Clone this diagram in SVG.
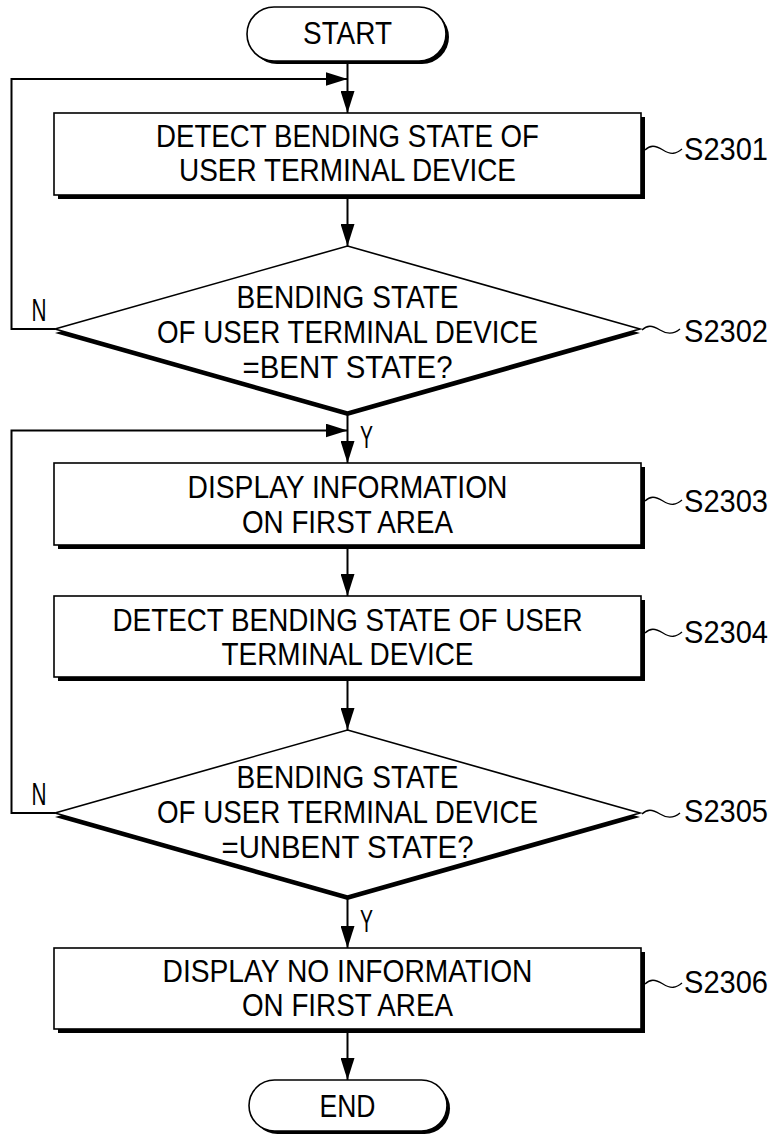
<svg xmlns="http://www.w3.org/2000/svg" width="780" height="1137" viewBox="0 0 780 1137">
<defs>
<style>
.t{font-family:"Liberation Sans",Arial,sans-serif;font-size:31px;fill:#000;text-anchor:middle}
.l{font-family:"Liberation Sans",Arial,sans-serif;font-size:31px;fill:#000}
.box{fill:#fff;stroke:#000;stroke-width:1.6}
.sh{fill:#000;stroke:none}
.c{fill:none;stroke:#000;stroke-width:2}
.tl{fill:none;stroke:#000;stroke-width:1.3}
</style>
<marker id="ah" viewBox="0 0 22 14" refX="22" refY="7" markerWidth="22" markerHeight="14" orient="auto" markerUnits="userSpaceOnUse">
<path d="M0,0 L22,7 L0,14 z" fill="#000"/>
</marker>
</defs>
<rect width="780" height="1137" fill="#fff"/>

<g id="connectors">
<line class="c" x1="347.5" y1="63" x2="347.5" y2="113" marker-end="url(#ah)"/>
<polyline class="c" points="55,329 11.5,329 11.5,79 347.5,79" marker-end="url(#ah)"/>
<line class="c" x1="347.5" y1="197" x2="347.5" y2="246" marker-end="url(#ah)"/>
<line class="c" x1="347.5" y1="414" x2="347.5" y2="463" marker-end="url(#ah)"/>
<polyline class="c" points="55,813 11.5,813 11.5,430.5 347.5,430.5" marker-end="url(#ah)"/>
<line class="c" x1="347.5" y1="548" x2="347.5" y2="596" marker-end="url(#ah)"/>
<line class="c" x1="347.5" y1="679" x2="347.5" y2="730" marker-end="url(#ah)"/>
<line class="c" x1="347.5" y1="898" x2="347.5" y2="948" marker-end="url(#ah)"/>
<line class="c" x1="347.5" y1="1032" x2="347.5" y2="1080" marker-end="url(#ah)"/>
<text class="l" x="31.5" y="320.5" textLength="15" lengthAdjust="spacingAndGlyphs">N</text>
<text class="l" x="360" y="448" textLength="13" lengthAdjust="spacingAndGlyphs">Y</text>
<text class="l" x="31.5" y="805" textLength="15" lengthAdjust="spacingAndGlyphs">N</text>
<text class="l" x="360" y="932" textLength="13" lengthAdjust="spacingAndGlyphs">Y</text>
</g>

<g id="start">
<rect class="sh" x="250" y="10" width="199" height="54" rx="27"/>
<rect class="box" x="247" y="7" width="199" height="54" rx="27"/>
<text class="t" x="347.5" y="44" textLength="89" lengthAdjust="spacingAndGlyphs">START</text>
</g>

<g id="s2301">
<rect class="sh" x="58" y="117" width="587" height="82"/>
<rect class="box" x="54" y="113" width="587" height="82"/>
<text class="t" x="347.5" y="146.5" textLength="383" lengthAdjust="spacingAndGlyphs">DETECT BENDING STATE OF</text>
<text class="t" x="347.5" y="181" textLength="337" lengthAdjust="spacingAndGlyphs">USER TERMINAL DEVICE</text>
<path class="tl" d="M645,150 c5,-5 10,-5 18,0 s13,4 19,-1"/>
<text class="l" x="684" y="160" textLength="84" lengthAdjust="spacingAndGlyphs">S2301</text>
</g>

<g id="s2302">
<polygon class="sh" points="347.5,250 640,333 347.5,416 55,333"/>
<polygon class="box" points="347.5,246 640,329 347.5,412 55,329"/>
<text class="t" x="347.5" y="308" textLength="222" lengthAdjust="spacingAndGlyphs">BENDING STATE</text>
<text class="t" x="347.5" y="343" textLength="381" lengthAdjust="spacingAndGlyphs">OF USER TERMINAL DEVICE</text>
<text class="t" x="347.5" y="378" textLength="210" lengthAdjust="spacingAndGlyphs">=BENT STATE?</text>
<path class="tl" d="M642,330 c5,-5 10,-5 18,0 s14,4 20,-1"/>
<text class="l" x="684" y="342" textLength="84" lengthAdjust="spacingAndGlyphs">S2302</text>
</g>

<g id="s2303">
<rect class="sh" x="58" y="467" width="587" height="82"/>
<rect class="box" x="54" y="463" width="587" height="82"/>
<text class="t" x="347.5" y="498" textLength="320" lengthAdjust="spacingAndGlyphs">DISPLAY INFORMATION</text>
<text class="t" x="347.5" y="532.5" textLength="211" lengthAdjust="spacingAndGlyphs">ON FIRST AREA</text>
<path class="tl" d="M645,501 c5,-5 10,-5 18,0 s13,4 19,-1"/>
<text class="l" x="684" y="512" textLength="84" lengthAdjust="spacingAndGlyphs">S2303</text>
</g>

<g id="s2304">
<rect class="sh" x="58" y="600" width="587" height="81"/>
<rect class="box" x="54" y="596" width="587" height="81"/>
<text class="t" x="347.5" y="631" textLength="470" lengthAdjust="spacingAndGlyphs">DETECT BENDING STATE OF USER</text>
<text class="t" x="347.5" y="665" textLength="252" lengthAdjust="spacingAndGlyphs">TERMINAL DEVICE</text>
<path class="tl" d="M645,633 c5,-5 10,-5 18,0 s13,4 19,-1"/>
<text class="l" x="684" y="643" textLength="84" lengthAdjust="spacingAndGlyphs">S2304</text>
</g>

<g id="s2305">
<polygon class="sh" points="347.5,734 640,817 347.5,900 55,817"/>
<polygon class="box" points="347.5,730 640,813 347.5,896 55,813"/>
<text class="t" x="347.5" y="788" textLength="222" lengthAdjust="spacingAndGlyphs">BENDING STATE</text>
<text class="t" x="347.5" y="823" textLength="381" lengthAdjust="spacingAndGlyphs">OF USER TERMINAL DEVICE</text>
<text class="t" x="347.5" y="858" textLength="252" lengthAdjust="spacingAndGlyphs">=UNBENT STATE?</text>
<path class="tl" d="M642,814 c5,-5 10,-5 18,0 s14,4 20,-1"/>
<text class="l" x="684" y="822" textLength="84" lengthAdjust="spacingAndGlyphs">S2305</text>
</g>

<g id="s2306">
<rect class="sh" x="58" y="952" width="587" height="81"/>
<rect class="box" x="54" y="948" width="587" height="81"/>
<text class="t" x="347.5" y="981.5" textLength="370" lengthAdjust="spacingAndGlyphs">DISPLAY NO INFORMATION</text>
<text class="t" x="347.5" y="1016" textLength="211" lengthAdjust="spacingAndGlyphs">ON FIRST AREA</text>
<path class="tl" d="M645,984 c5,-5 10,-5 18,0 s13,4 19,-1"/>
<text class="l" x="684" y="993" textLength="84" lengthAdjust="spacingAndGlyphs">S2306</text>
</g>

<g id="end">
<rect class="sh" x="252" y="1083" width="198" height="51" rx="25.5"/>
<rect class="box" x="249" y="1080" width="198" height="51" rx="25.5"/>
<text class="t" x="347.5" y="1117" textLength="56" lengthAdjust="spacingAndGlyphs">END</text>
</g>
</svg>
